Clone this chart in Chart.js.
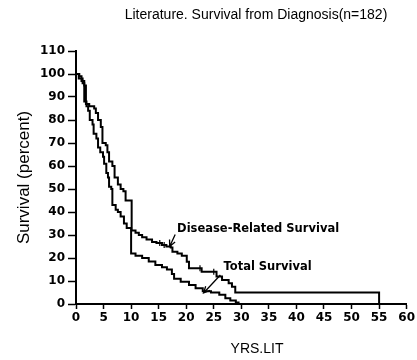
<!DOCTYPE html>
<html>
<head>
<meta charset="utf-8">
<script src="https://cdn.jsdelivr.net/npm/chart.js@4.4.1/dist/chart.umd.min.js"></script>
<style>
    html, body { margin: 0; padding: 0; background: #fff; }
</style>
</head>
<body>
<canvas id="kmChart" width="417" height="360"></canvas>
<script>
// Kaplan-Meier style survival curves
const totalYears = [0, 0.5, 1.2, 1.5, 1.9, 2.2, 2.5, 3.0, 3.2, 3.7, 4.0, 4.4, 4.9, 5.1, 5.5, 5.8, 6.0, 6.4, 6.6, 7.2, 7.6, 8.1, 8.7, 9.2, 10.0, 10.8, 12.0, 13.2, 14.4, 15.6, 16.5, 17.4, 17.8, 19.0, 20.5, 21.7, 23.0, 24.5, 26.0, 27.1, 28.0, 29.0, 29.5];
const totalSurvival = [100, 98, 96, 88, 86, 84, 80, 78, 74, 72, 68, 66, 64, 61, 57, 55, 51, 50, 43, 41, 40, 38, 35, 33, 22, 21, 20, 18.5, 17, 16, 15, 13, 11, 9.7, 8.3, 6.8, 5.5, 5, 4, 2.5, 1.5, 0.6, 0];

const diseaseYears = [0, 0.6, 1.0, 1.5, 1.8, 2.4, 3.3, 3.6, 4.0, 4.5, 4.8, 5.4, 5.7, 6.0, 6.6, 7.0, 7.6, 8.1, 8.6, 9.0, 10.1, 10.8, 11.4, 12.0, 12.8, 13.8, 14.6, 15.6, 16.4, 17.2, 17.5, 18.4, 19.2, 20.1, 20.5, 22.8, 25.5, 26.5, 27.7, 28.3, 28.9, 55];
const diseaseSurvival = [100, 99, 97, 95, 87, 86, 85, 83, 80, 77, 70, 69, 66, 62, 60, 55, 52, 50, 49, 45, 32, 31, 30, 29, 28, 27, 26.5, 25.7, 25, 24.6, 22.7, 22, 21, 18.4, 15.5, 14, 12, 10.4, 9, 7.5, 5, 0];

// censored marks on the disease-related curve
const censorYears = [15.2, 16.0, 22.5, 25.0];
const censorSurvival = [26.5, 25.7, 15.5, 14];

const xTicks = [0, 60, 5];   // min, max, step
const yTicks = [0, 110, 10];

const chartTitle = 'Literature. Survival from Diagnosis(n=182)';
const xTitle = 'YRS.LIT';
const yTitle = 'Survival (percent)';

const notes = [
    { text: 'Disease-Related Survival', at: [18.35, 32.6], from: [18.0, 30.2], to: [17.0, 25.0] },
    { text: 'Total Survival', at: [26.75, 16.1], from: [26.2, 12.6], to: [23.15, 4.8] }
];

function toPoints(xs, ys) {
    return xs.map(function (x, i) { return { x: x, y: ys[i] }; });
}

function drawArrow(c, x1, y1, x2, y2) {
    var ang = Math.atan2(y2 - y1, x2 - x1);
    var len = 7;
    c.beginPath();
    c.moveTo(x1, y1);
    c.lineTo(x2, y2);
    c.moveTo(x2 - len * Math.cos(ang - 0.45), y2 - len * Math.sin(ang - 0.45));
    c.lineTo(x2, y2);
    c.lineTo(x2 - len * Math.cos(ang + 0.45), y2 - len * Math.sin(ang + 0.45));
    c.stroke();
}

const textPlugin = {
    id: 'textPlugin',
    afterDraw: function (chart) {
        var c = chart.ctx;
        var xs = chart.scales.x, ys = chart.scales.y;
        c.save();
        c.fillStyle = '#000';
        c.strokeStyle = '#000';
        c.lineWidth = 1.3;
        c.textBaseline = 'middle';

        c.font = '14px "Liberation Sans", Arial, sans-serif';
        c.textAlign = 'center';
        c.fillText(chartTitle, 256, 15);
        c.fillText(xTitle, 257, 349);

        c.font = 'bold 11.5px "DejaVu Sans", sans-serif';
        c.textAlign = 'left';
        notes.forEach(function (n) {
            c.fillText(n.text, xs.getPixelForValue(n.at[0]), ys.getPixelForValue(n.at[1]));
            drawArrow(c,
                xs.getPixelForValue(n.from[0]), ys.getPixelForValue(n.from[1]),
                xs.getPixelForValue(n.to[0]), ys.getPixelForValue(n.to[1]));
        });
        c.restore();
    }
};

const tickFont = { family: '"DejaVu Sans", sans-serif', weight: 'bold', size: 12 };

const ctx = document.getElementById('kmChart').getContext('2d');

const kmChart = new Chart(ctx, {
    type: 'line',
    data: {
        datasets: [{
            label: 'Total Survival',
            data: toPoints(totalYears, totalSurvival),
            stepped: 'before',
            borderColor: '#000',
            borderWidth: 2,
            pointRadius: 0,
            fill: false
        }, {
            label: 'Disease-Related Survival',
            data: toPoints(diseaseYears, diseaseSurvival),
            stepped: 'before',
            borderColor: '#000',
            borderWidth: 2,
            pointRadius: 0,
            fill: false
        }, {
            label: 'Censored',
            data: toPoints(censorYears, censorSurvival),
            showLine: false,
            pointStyle: 'line',
            rotation: 90,
            pointRadius: 3,
            borderColor: '#000',
            borderWidth: 1.2
        }]
    },
    options: {
        responsive: false,
        animation: false,
        layout: {
            padding: { top: 51, right: 8, left: 0, bottom: 0 }
        },
        plugins: {
            legend: { display: false },
            tooltip: { enabled: false }
        },
        scales: {
            x: {
                type: 'linear',
                min: xTicks[0],
                max: xTicks[1],
                afterFit: function (scale) { scale.height = 56; },
                ticks: {
                    stepSize: xTicks[2],
                    color: '#000',
                    font: tickFont,
                    padding: 2,
                    maxRotation: 0
                },
                grid: {
                    drawOnChartArea: false,
                    tickLength: 5,
                    tickColor: '#000',
                    tickWidth: 1.5
                },
                border: { color: '#000', width: 2 },
                title: { display: false, text: xTitle }
            },
            y: {
                min: yTicks[0],
                max: yTicks[1],
                afterFit: function (scale) { scale.width = 76; },
                ticks: {
                    stepSize: yTicks[2],
                    color: '#000',
                    font: tickFont,
                    padding: 3
                },
                grid: {
                    drawOnChartArea: false,
                    tickLength: 8,
                    tickColor: '#000',
                    tickWidth: 1.5
                },
                border: { color: '#000', width: 2 },
                title: {
                    display: true,
                    text: yTitle,
                    color: '#000',
                    font: { family: '"Liberation Sans", Arial, sans-serif', size: 17 },
                    padding: { top: 14, bottom: 0 }
                }
            }
        }
    },
    plugins: [textPlugin]
});
</script>
</body>
</html>
